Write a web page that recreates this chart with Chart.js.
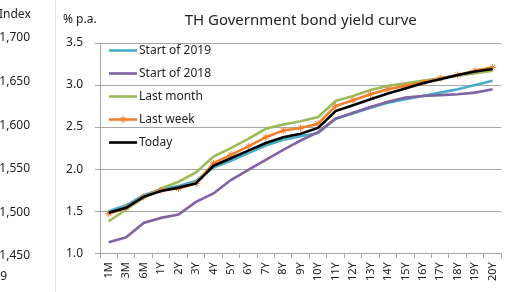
<!DOCTYPE html>
<html>
<head>
<meta charset="utf-8">
<script src="https://cdn.jsdelivr.net/npm/chart.js@4.4.1/dist/chart.umd.min.js"></script>
<style>
  html, body { margin: 0; padding: 0; background: #fff; }
  #wrap { position: relative; width: 510px; height: 292px; overflow: hidden; }
  #idxBox { position: absolute; left: 0; top: 0; width: 55px; height: 292px; border-right: 1px solid #e6e6e6; }
  #mainBox { position: absolute; left: 56px; top: 0; width: 454px; height: 292px; }
</style>
</head>
<body>
<div id="wrap">
  <div id="idxBox"><canvas id="idxChart"></canvas></div>
  <div id="mainBox"><canvas id="yieldChart"></canvas></div>
</div>
<script>
// --- données ---
const tenors = ["1M", "3M", "6M", "1Y", "2Y", "3Y", "4Y", "5Y", "6Y", "7Y", "8Y", "9Y",
  "10Y", "11Y", "12Y", "13Y", "14Y", "15Y", "16Y", "17Y", "18Y", "19Y", "20Y"];

const start2019 = [1.50, 1.57, 1.69, 1.76, 1.80, 1.86, 2.02, 2.10, 2.19, 2.28, 2.35, 2.39,
  2.43, 2.60, 2.66, 2.73, 2.79, 2.83, 2.87, 2.91, 2.95, 3.00, 3.05];
const start2018 = [1.13, 1.19, 1.36, 1.42, 1.46, 1.61, 1.71, 1.87, 1.99, 2.11, 2.23, 2.34,
  2.44, 2.60, 2.67, 2.74, 2.80, 2.85, 2.87, 2.88, 2.89, 2.91, 2.95];
const lastMonth = [1.38, 1.52, 1.66, 1.77, 1.85, 1.96, 2.15, 2.25, 2.36, 2.48, 2.53, 2.57,
  2.62, 2.81, 2.87, 2.94, 2.99, 3.02, 3.05, 3.08, 3.11, 3.14, 3.17];
const lastWeek = [1.47, 1.54, 1.67, 1.75, 1.77, 1.83, 2.07, 2.17, 2.27, 2.38, 2.46, 2.49,
  2.54, 2.75, 2.82, 2.89, 2.95, 2.99, 3.03, 3.08, 3.12, 3.17, 3.21];
const today = [1.48, 1.54, 1.67, 1.74, 1.78, 1.83, 2.04, 2.13, 2.22, 2.31, 2.38, 2.42,
  2.49, 2.69, 2.76, 2.83, 2.90, 2.96, 3.02, 3.07, 3.12, 3.16, 3.19];

const yieldTicks = [1.0, 1.5, 2.0, 2.5, 3.0, 3.5];
const indexTicks = [1450, 1500, 1550, 1600, 1650, 1700];

const fontFam = "'Noto Sans', sans-serif";
Chart.defaults.font.family = fontFam;
Chart.defaults.color = "#333";

// légende dessinée dans la zone du graphique (en haut à gauche)
const insideLegend = {
  id: "insideLegend",
  afterDatasetsDraw(chart) {
    const { ctx, chartArea } = chart;
    const x0 = chartArea.left + 9;
    const x1 = chartArea.left + 37;
    ctx.save();
    ctx.font = "12px " + fontFam;
    ctx.textBaseline = "middle";
    chart.data.datasets.forEach((ds, i) => {
      const y = chartArea.top + 7.5 + i * 23;
      ctx.strokeStyle = ds.borderColor;
      ctx.lineWidth = 2.6;
      ctx.beginPath();
      ctx.moveTo(x0, y);
      ctx.lineTo(x1, y);
      ctx.stroke();
      if (ds.pointStyle === "star") {
        // petit marqueur étoile au milieu
        const cx = (x0 + x1) / 2, r = ds.pointRadius;
        ctx.lineWidth = 1;
        ctx.beginPath();
        ctx.moveTo(cx - r, y); ctx.lineTo(cx + r, y);
        ctx.moveTo(cx, y - r); ctx.lineTo(cx, y + r);
        ctx.moveTo(cx - r * 0.7, y - r * 0.7); ctx.lineTo(cx + r * 0.7, y + r * 0.7);
        ctx.moveTo(cx - r * 0.7, y + r * 0.7); ctx.lineTo(cx + r * 0.7, y - r * 0.7);
        ctx.stroke();
      }
      ctx.fillStyle = "#222";
      ctx.fillText(ds.label, x1 + 2, y + 0.5);
    });
    ctx.restore();
  }
};

// unité de l'axe des taux
const unitLabel = {
  id: "unitLabel",
  afterDraw(chart) {
    const { ctx, chartArea } = chart;
    ctx.save();
    ctx.font = "12px " + fontFam;
    ctx.fillStyle = "#222";
    ctx.textBaseline = "middle";
    ctx.textAlign = "left";
    ctx.fillText("% p.a.", chartArea.left - 37, 20);
    ctx.restore();
  }
};

// textes du graphique voisin (axe Index coupé)
const indexLabels = {
  id: "indexLabels",
  afterDraw(chart) {
    const { ctx } = chart;
    ctx.save();
    ctx.font = "12px " + fontFam;
    ctx.fillStyle = "#222";
    ctx.textBaseline = "middle";
    ctx.textAlign = "left";
    ctx.fillText("Index", -1, 15);
    ctx.textAlign = "right";
    ctx.fillText("19", 7, 277);
    ctx.restore();
  }
};

new Chart(document.getElementById("idxChart"), {
  type: "line",
  data: { labels: [], datasets: [] },
  options: {
    responsive: true,
    maintainAspectRatio: false,
    animation: false,
    layout: { padding: { top: 38, bottom: 36 } },
    plugins: { legend: { display: false }, tooltip: { enabled: false } },
    scales: {
      x: { display: false },
      y: {
        min: indexTicks[0],
        max: indexTicks[indexTicks.length - 1],
        ticks: {
          stepSize: 50,
          padding: 4,
          font: { size: 12 },
          color: "#222",
          callback: (v) => v.toLocaleString("en-US"),
        },
        grid: { display: false },
        border: { display: false },
        afterFit: (s) => { s.width = 42; },
      },
    },
  },
  plugins: [indexLabels],
});

new Chart(document.getElementById("yieldChart"), {
  type: "line",
  data: {
    labels: tenors,
    datasets: [
      { label: "Start of 2019", data: start2019, borderColor: "#4bacc6", order: 4 },
      { label: "Start of 2018", data: start2018, borderColor: "#8064a2", order: 3 },
      { label: "Last month", data: lastMonth, borderColor: "#9bbb59", order: 2 },
      {
        label: "Last week", data: lastWeek, borderColor: "#f07f2e", order: 1,
        pointStyle: "star", pointRadius: 3.5, pointBorderWidth: 1,
        pointBorderColor: "#f07f2e",
      },
      { label: "Today", data: today, borderColor: "#000000", order: 0 },
    ],
  },
  options: {
    responsive: true,
    maintainAspectRatio: false,
    animation: false,
    layout: { padding: { right: 5, bottom: 7 } },
    elements: {
      line: { borderWidth: 2.6, tension: 0 },
      point: { radius: 0 },
    },
    plugins: {
      legend: { display: false },
      tooltip: { enabled: false },
      title: {
        display: true,
        text: "TH Government bond yield curve",
        fullSize: false,
        color: "#222",
        font: { size: 15, weight: "normal" },
        padding: { top: 12, bottom: 13 },
      },
    },
    scales: {
      x: {
        offset: true,
        grid: { offset: true, drawOnChartArea: false, tickLength: 5, color: "#a6a6a6" },
        border: { color: "#a6a6a6" },
        ticks: {
          autoSkip: false,
          maxRotation: 90,
          minRotation: 90,
          padding: 4,
          color: "#222",
          font: { size: 11 },
        },
      },
      y: {
        min: yieldTicks[0],
        max: yieldTicks[yieldTicks.length - 1],
        ticks: {
          stepSize: 0.5,
          padding: 12,
          color: "#222",
          font: { size: 12 },
          callback: (v) => v.toFixed(1),
        },
        grid: { color: "#a6a6a6", tickLength: 5 },
        border: { color: "#a6a6a6" },
        afterFit: (s) => { s.width = 44; },
      },
    },
  },
  plugins: [insideLegend, unitLabel],
});
</script>
</body>
</html>
